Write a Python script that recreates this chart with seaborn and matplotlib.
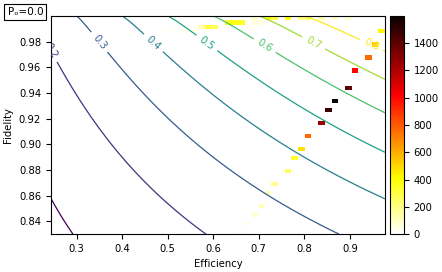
import numpy as np
import matplotlib
matplotlib.use("Agg")
import matplotlib.pyplot as plt
import seaborn as sns

#----------------------data----------------------
eff_range = (0.2435, 0.977)
fid_range = (0.83, 1.0)
n_bins = 50

# occupied histogram cells: bin centre efficiency, bin centre fidelity, count
efficiency = [0.6616, 0.6763, 0.6909, 0.7056, 0.7203, 0.7349, 0.7643, 0.7790,
              0.7936, 0.8083, 0.8376, 0.8523, 0.8670, 0.8963, 0.9110, 0.9403,
              0.9550, 0.9697,
              0.4856, 0.5003, 0.5149, 0.5296, 0.5443, 0.5589,
              0.5736, 0.5883, 0.6029,
              0.6323, 0.6469, 0.6616, 0.6909, 0.7056,
              0.6909, 0.7203, 0.7349, 0.7643, 0.7936, 0.8083, 0.8376, 0.8670, 0.8963]
fidelity = [0.8317, 0.8385, 0.8453, 0.8521, 0.8623, 0.8691, 0.8793, 0.8895,
            0.8963, 0.9065, 0.9167, 0.9269, 0.9337, 0.9439, 0.9575, 0.9677,
            0.9779, 0.9881,
            0.9881, 0.9881, 0.9881, 0.9881, 0.9881, 0.9881,
            0.9915, 0.9915, 0.9915,
            0.9949, 0.9949, 0.9949, 0.9949, 0.9949,
            0.9983, 0.9983, 0.9983, 0.9983, 0.9983, 0.9983, 0.9983, 0.9983, 0.9983]
counts = [15, 35, 60, 90, 110, 170, 250, 340,
          470, 760, 1250, 1480, 1598, 1400, 1010, 760,
          520, 420,
          8, 12, 15, 20, 25, 30,
          120, 330, 260,
          380, 380, 360, 60, 40,
          70, 380, 300, 390, 200, 230, 150, 90, 70]

levels = [0.1, 0.2, 0.3, 0.4, 0.5, 0.6, 0.7, 0.8]
label_pos = [(0.243, 0.979), (0.351, 0.98), (0.471, 0.98), (0.588, 0.98),
             (0.713, 0.977), (0.822, 0.98), (0.948, 0.978)]
y_ticks = [0.84, 0.86, 0.88, 0.90, 0.92, 0.94, 0.96, 0.98]
cbar_ticks = [0, 200, 400, 600, 800, 1000, 1200, 1400]

#----------------------contour surface: E * (1 - H2(1-F))----------------------
E, F = np.meshgrid(np.linspace(*eff_range, 300), np.linspace(*fid_range, 300))
p = np.clip(1 - F, 1e-12, 1)
h2 = -p * np.log2(p) - (1 - p) * np.log2(np.clip(1 - p, 1e-12, 1))
Z = E * (1 - h2)

#----------------------plot----------------------
plt.rcParams['font.size'] = 7.2
fig = plt.figure(figsize=(4.42, 2.72), dpi=100)
ax = fig.add_axes([0.115, 0.139, 0.756, 0.802])
cax = fig.add_axes([0.882, 0.139, 0.032, 0.802])

sns.histplot(x=efficiency, y=fidelity, weights=counts, bins=n_bins,
             binrange=(eff_range, fid_range), cmap='hot_r', vmin=0, vmax=1598,
             cbar=True, cbar_ax=cax, ax=ax)

cs = ax.contour(E, F, Z, levels=levels, cmap='viridis', linewidths=0.9)
labels = ax.clabel(cs, inline=True, fontsize=7.2, manual=label_pos)
for t in labels:
    t.set_clip_path(ax.patch)
    t.set_clip_on(True)

ax.set_xlim(*eff_range)
ax.set_ylim(*fid_range)
ax.set_yticks(y_ticks)
ax.set_xlabel("Efficiency")
ax.set_ylabel("Fidelity")
cax.set_yticks(cbar_ticks)

fig.text(0.017, 0.955, "Pₒ=0.0", fontsize=7.5, va='center', ha='left',
         bbox=dict(boxstyle='square,pad=0.3', fc='white', ec='black', lw=0.8))

fig.savefig("out.png", dpi=100)
